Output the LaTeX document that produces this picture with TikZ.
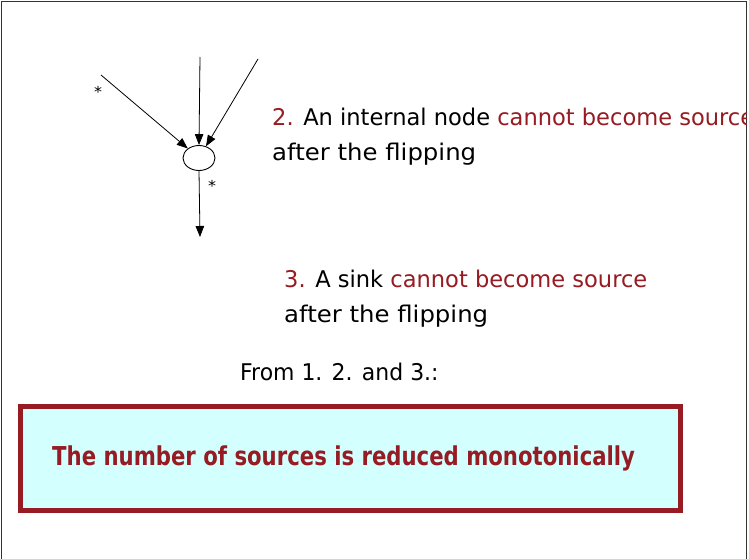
\documentclass[tikz,border=0pt]{standalone}
\usepackage{graphicx}
\usepackage{fontspec}
\setmainfont{DejaVu Sans}[FakeStretch=1.06]
\usetikzlibrary{shapes.geometric,arrows.meta}
\definecolor{dred}{HTML}{961B22}
\definecolor{boxfill}{HTML}{D4FFFF}
\tikzset{
  edge/.style={draw=black, line width=0.8pt, -{Triangle[length=11pt,width=8.5pt]}},
  txt/.style={anchor=base west, inner sep=0pt, font=\fontsize{23}{27}\selectfont},
  star/.style={inner sep=0pt, font=\fontsize{15}{16}\selectfont},
}
\begin{document}
\begin{tikzpicture}[x=1pt,y=-1pt]
\useasboundingbox (0,0) rectangle (749,559);
\fill[white] (0,0) rectangle (749,559);
\draw[black!80, line width=0.8pt] (1,559) -- (1,1) -- (746,1) -- (746,559);
% graph
\node[ellipse, draw, line width=0.9pt, minimum width=32pt, minimum height=25pt, inner sep=0pt] (v) at (199,158) {};
\coordinate (a) at (101,75);
\coordinate (b) at (200,57);
\coordinate (c) at (258,59);
\coordinate (d) at (200,237);
\draw[edge] (a) -- (v);
\draw[edge] (b) -- (v.north);
\draw[edge] (c) -- (v);
\draw[edge] (v.south) -- (d);
\node[star] (s1) at (98,92) {*};
\node[star] (s2) at (212,186) {*};
% texts
\begin{scope}
\clip (0,0) rectangle (746,559);
\node[txt] (t2a) at (272,125) {\scalebox{0.925}[1]{\textcolor{dred}{2.} An internal node \textcolor{dred}{cannot become source}}};
\end{scope}
\node[txt] (t2b) at (272,160) {after the flipping};
\node[txt] (t3a) at (284,287) {\scalebox{0.925}[1]{\textcolor{dred}{3.} A sink \textcolor{dred}{cannot become source}}};
\node[txt] (t3b) at (284,322) {after the flipping};
\node[txt] (t4) at (240,380) {\scalebox{0.9}[1]{From 1. 2. and 3.:}};
% box
\node[draw=dred, line width=5pt, fill=boxfill, minimum width=660pt, minimum height=104pt, inner sep=0pt] (box) at (350.5,458.5) {};
\node[anchor=base west, inner sep=0pt, font=\bfseries\fontsize{26}{30}\selectfont, text=dred] (res) at (52,465) {\scalebox{0.77}[1]{The number of sources is reduced monotonically}};
\end{tikzpicture}
\end{document}
